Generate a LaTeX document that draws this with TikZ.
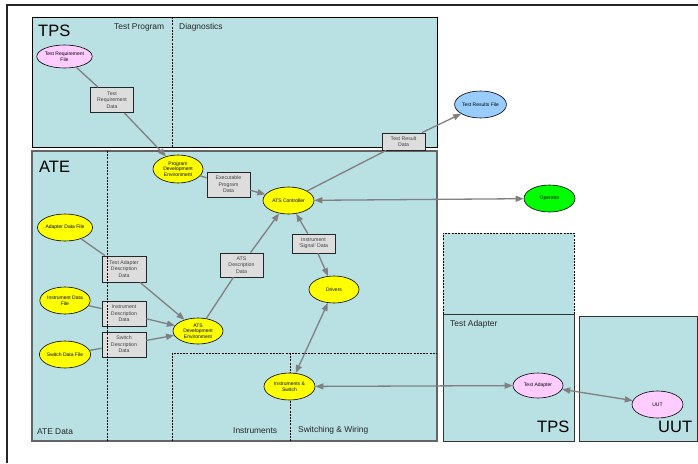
\documentclass[tikz,border=0pt]{standalone}
\usepackage{fontspec}
\setmainfont{Liberation Sans}
\usetikzlibrary{shapes.geometric,arrows.meta}
\definecolor{bgteal}{RGB}{185,224,226}
\definecolor{ellyellow}{RGB}{255,255,0}
\definecolor{ellpink}{RGB}{255,204,255}
\definecolor{ellblue}{RGB}{153,204,255}
\definecolor{ellgreen}{RGB}{0,255,0}
\definecolor{boxgrey}{RGB}{221,221,221}
\definecolor{conngrey}{RGB}{128,128,128}
\definecolor{framegrey}{RGB}{100,100,100}
\tikzset{
  region/.style={fill=bgteal, draw=black, line width=0.7pt},
  regiongrey/.style={fill=bgteal, draw=framegrey, line width=1.3pt},
  divider/.style={draw=black, line width=0.6pt, dash pattern=on 2pt off 1.2pt},
  ell/.style={ellipse, draw=black, line width=0.6pt, minimum width=50pt, minimum height=27pt,
    inner sep=0pt, align=center, font=\fontsize{5}{5.6}\selectfont, text=black},
  databox/.style={rectangle, draw=black!85, line width=0.8pt, fill=boxgrey, minimum width=43pt,
    minimum height=25pt, inner sep=0pt, align=center, font=\fontsize{5.2}{6.4}\selectfont, text=black!75},
  conn/.style={draw=conngrey, line width=1.3pt},
  arr/.style={conn, -{Triangle[length=8pt,width=6pt]}},
  biarr/.style={conn, {Triangle[length=8pt,width=6pt]}-{Triangle[length=8pt,width=6pt]}},
  biglabel/.style={font=\fontsize{16.5}{18}\selectfont, inner sep=0pt},
  seclabel/.style={font=\fontsize{8.4}{10}\selectfont, inner sep=0pt, text=black!85},
}
\begin{document}
\begin{tikzpicture}[x=1pt,y=-1pt]
\useasboundingbox (0,0) rectangle (698,463);
% outer frame (extends beyond picture)
\draw[line width=1.6pt, black!85] (698,5) -- (7,5) -- (7,463);
% TPS region
\path[region] (32,17) rectangle (437,147);
\draw[divider] (172,17) -- (172,147);
% ATE region
\path[regiongrey] (32,151) rectangle (437,441);
\draw[divider] (172,441) -- (172,353) -- (437,353);
\draw[divider] (290,353) -- (290,441);
% Test adapter regions
\path[fill=bgteal] (443,233) rectangle (574,314);
\draw[divider] (443,314) -- (443,233) -- (574,233) -- (574,314);
\path[region, draw=black!80] (443,314) rectangle (574,441);
\path[region, draw=black!80] (579,316) rectangle (697,441);
% labels
\node[biglabel, anchor=west] (lTPS) at (38,31) {TPS};
\node[seclabel, anchor=west] (lTP) at (114,27) {Test Program};
\node[seclabel, anchor=west] (lDG) at (179,27) {Diagnostics};
\node[biglabel, anchor=west] (lATE) at (39,167) {ATE};
\node[seclabel, anchor=west] (lATED) at (37,432) {ATE Data};
\node[seclabel, anchor=west] (lINS) at (233,431) {Instruments};
\node[seclabel, anchor=west] (lSW) at (298,430) {Switching \& Wiring};
\node[seclabel, anchor=west] (lTA) at (450,324) {Test Adapter};
\node[biglabel, anchor=west] (lTPS2) at (537,427) {TPS};
\node[biglabel, anchor=west] (lUUT) at (658,427) {UUT};
% nodes
\node[ell, fill=ellpink, minimum width=49pt, minimum height=23pt] (trf) at (64.5,56.5) {Test Requirement\\File};
\node[databox] (trd) at (112,100) {Test\\Requirement\\Data};
\node[ell, fill=ellyellow, minimum height=28pt] (pde) at (178,169) {Program\\Development\\Environment};
\node[databox] (epd) at (228.5,184.5) {Executable\\Program\\Data};
\node[ell, fill=ellyellow, minimum width=51pt] (atsc) at (288.5,200.5) {ATS Controller};
\node[ell, fill=ellgreen, minimum width=51pt] (op) at (549.5,198.5) {Operator};
\node[ell, fill=ellblue, minimum width=51pt] (trfile) at (480.5,104.5) {Test Results File};
\node[databox, minimum height=17pt] (trdata) at (403.5,141.5) {Test Result\\Data};
\node[databox, minimum height=19pt] (isd) at (313.5,243.5) {Instrument\\`Signal' Data};
\node[ell, fill=ellyellow] (drv) at (334,289.5) {Drivers};
\node[databox, minimum height=24pt] (atsdd) at (241.5,265) {ATS\\Description\\Data};
\node[ell, fill=ellyellow, minimum height=26pt] (ade) at (198,331) {ATS\\Development\\Environment};
\node[ell, fill=ellyellow] (adf) at (65,227.5) {Adapter Data File};
\node[ell, fill=ellyellow] (idf) at (65,300.5) {Instrument Data\\File};
\node[ell, fill=ellyellow] (sdf) at (65,354.5) {Switch Data File};
\node[databox, minimum width=44pt, minimum height=26pt] (tadd) at (124,269) {Test Adapter\\Description\\Data};
\node[databox, minimum width=44pt] (idd) at (124,313.5) {Instrument\\Description\\Data};
\node[databox, minimum width=44pt] (sdd) at (124,344.5) {Switch\\Description\\Data};
\node[ell, fill=ellyellow, minimum width=51pt] (ins) at (289.5,386.5) {Instruments \&\\Switch};
\node[ell, fill=ellpink, minimum height=25pt] (ta) at (538,385.5) {Test Adapter};
\node[ell, fill=ellpink, minimum width=51pt] (uut) at (657.5,404.5) {UUT};
% connectors
\draw[conn] (trf) -- (trd);
\draw[arr] (trd) -- (pde);
\draw[conn] (pde) -- (epd);
\draw[arr] (epd) -- (atsc);
\draw[conn] (atsc) -- (trdata);
\draw[arr] (trdata) -- (trfile);
\draw[biarr] (atsc) -- (op);
\draw[arr] (isd) -- (atsc);
\draw[arr] (isd) -- (drv);
\draw[biarr] (drv) -- (ins);
\draw[biarr] (ins) -- (ta);
\draw[biarr] (ta) -- (uut);
\draw[conn] (ade) -- (atsdd);
\draw[arr] (atsdd) -- (atsc);
\draw[conn] (adf) -- (tadd);
\draw[arr] (tadd) -- (ade);
\draw[conn] (idf) -- (idd);
\draw[arr] (idd) -- (ade);
\draw[conn] (sdf) -- (sdd);
\draw[arr] (sdd) -- (ade);
% ATE data divider over the boxes
\draw[divider] (107,151) -- (107,441);
\end{tikzpicture}
\end{document}
